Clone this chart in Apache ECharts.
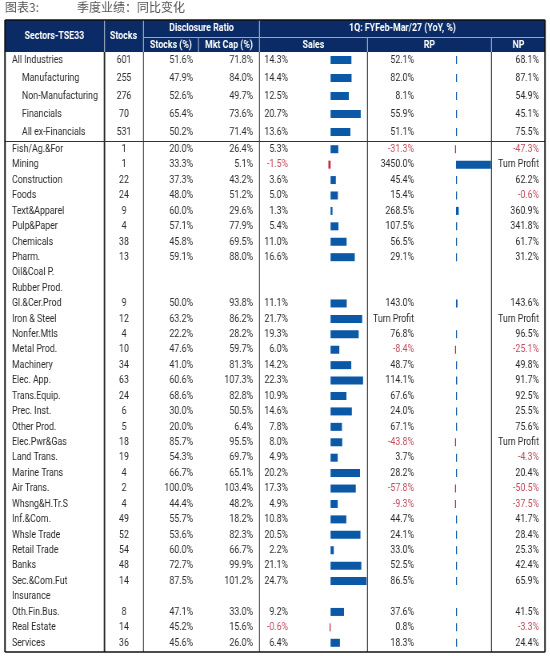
<!DOCTYPE html>
<html><head><meta charset="utf-8">
<script src="https://cdn.jsdelivr.net/npm/echarts@6/dist/echarts.min.js"></script>
<style>
html,body{margin:0;padding:0;background:#fff;overflow:hidden}
#wrap{width:550px;height:656px;overflow:hidden}
#c{width:687.5px;height:656px;transform:scaleX(0.8);transform-origin:0 0}
</style>
</head><body><div id="wrap"><div id="c"></div></div>
<script>
// ---------------- data ----------------
const sectors = ['All Industries','Manufacturing','Non-Manufacturing','Financials','All ex-Financials',
 'Fish/Ag.&For','Mining','Construction','Foods','Text&Apparel','Pulp&Paper','Chemicals','Pharm.','Oil&Coal P.','Rubber Prod.',
 'Gl.&Cer.Prod','Iron & Steel','Nonfer.Mtls','Metal Prod.','Machinery','Elec. App.','Trans.Equip.','Prec. Inst.','Other Prod.',
 'Elec.Pwr&Gas','Land Trans.','Marine Trans','Air Trans.','Whsng&H.Tr.S','Inf.&Com.','Whsle Trade','Retail Trade','Banks',
 'Sec.&Com.Fut','Insurance','Oth.Fin.Bus.','Real Estate','Services'];
const stocks = [601,255,276,70,531, 1,1,22,24,9,4,38,13,null,null, 9,12,4,10,34,63,24,6,5, 18,19,4,2,4,49,52,54,48, 14,null,8,14,36];
const stocksPct = [51.6,47.9,52.6,65.4,50.2, 20.0,33.3,37.3,48.0,60.0,57.1,45.8,59.1,null,null, 50.0,63.2,22.2,47.6,41.0,60.6,68.6,30.0,20.0,
 85.7,54.3,66.7,100.0,44.4,55.7,53.6,60.0,72.7, 87.5,null,47.1,45.2,45.6];
const mktCapPct = [71.8,84.0,49.7,73.6,71.4, 26.4,5.1,43.2,51.2,29.6,77.9,69.5,88.0,null,null, 93.8,86.2,28.2,59.7,81.3,107.3,82.8,50.5,6.4,
 95.5,69.7,65.1,103.4,48.2,18.2,82.3,66.7,99.9, 101.2,null,33.0,15.6,26.0];
const sales = [14.3,14.4,12.5,20.7,13.6, 5.3,-1.5,3.6,5.0,1.3,5.4,11.0,16.6,null,null, 11.1,21.7,19.3,6.0,14.2,22.3,10.9,14.6,7.8,
 8.0,4.9,20.2,17.3,4.9,10.8,20.5,2.2,21.1, 24.7,null,9.2,-0.6,6.4];
const rp = [52.1,82.0,8.1,55.9,51.1, -31.3,3450.0,45.4,15.4,268.5,107.5,56.5,29.1,null,null, 143.0,'Turn Profit',76.8,-8.4,48.7,114.1,67.6,24.0,67.1,
 -43.8,3.7,28.2,-57.8,-9.3,44.7,24.1,33.0,52.5, 86.5,null,37.6,0.8,18.3];
const np = [68.1,87.1,54.9,45.1,75.5, -47.3,'Turn Profit',62.2,-0.6,360.9,341.8,61.7,31.2,null,null, 143.6,'Turn Profit',96.5,-25.1,49.8,91.7,92.5,25.5,75.6,
 'Turn Profit',-4.3,20.4,-50.5,-37.5,41.7,28.4,25.3,42.4, 65.9,null,41.5,-3.3,24.4];
const groupSizes = [5, 33];
const headerGroups = ['Disclosure Ratio', '1Q: FYFeb-Mar/27 (YoY, %)'];
const headerCols = ['Sectors-TSE33','Stocks','Stocks (%)','Mkt Cap (%)','Sales','RP','NP'];
const titleLabel = '图表3:';
const titleText = '季度业绩：同比变化';

// ---------------- style ----------------
// the chart canvas is drawn 1/0.8 wider and squeezed back to give condensed text
const S = 0.8;
const X = v => v / S;
const FONT = "Roboto,'Liberation Sans',sans-serif";
const NAVY = '#0b2b66', BLUE = '#0b58a6', RED = '#c62a3e', TXT = '#2b2b2b', NEGTXT = '#c24b5c';
const pct = v => v == null ? '' : (typeof v === 'string' ? v : v.toFixed(1) + '%');

const chart = echarts.init(document.getElementById('c'), null, {renderer: 'canvas'});
const grids = [], xAxes = [], yAxes = [], series = [];

const sections = [];
const secTops = [51, 141.5];
const secHeights = [90, 509];
let startIdx = 0;
groupSizes.forEach((n, i) => { sections.push({from: startIdx, to: startIdx + n, top: secTops[i], height: secHeights[i]}); startIdx += n; });

const textCols = [
  {arr: sectors, left: 12, align: 'left', name: true},
  {arr: stocks, left: 124, align: 'center', fmt: v => v == null ? '' : String(v)},
  {arr: stocksPct, left: 193, align: 'right', fmt: pct},
  {arr: mktCapPct, left: 253, align: 'right', fmt: pct},
  {arr: sales, left: 288, align: 'right', fmt: pct},
  {arr: rp, left: 414, align: 'right', fmt: pct},
  {arr: np, left: 539, align: 'right', fmt: pct}
];
const barCols = [
  {arr: sales, left: 300, width: 67, min: -21, max: 25},
  {arr: rp, left: 420, width: 72, min: -3550, max: 3550}
];

sections.forEach((sec, si) => {
  const cats = sectors.slice(sec.from, sec.to);
  textCols.forEach(col => {
    const gi = grids.length;
    const vals = col.arr.slice(sec.from, sec.to);
    grids.push({left: X(col.left), top: sec.top, width: X(1), height: sec.height});
    xAxes.push({type: 'value', gridIndex: gi, show: false, min: 0, max: 1});
    yAxes.push({
      type: 'category', gridIndex: gi, data: cats, inverse: true,
      axisLine: {show: false}, axisTick: {show: false}, splitLine: {show: false},
      axisLabel: {
        show: true, interval: 0, margin: 0, align: col.align,
        fontFamily: FONT, fontSize: 11,
        color: (v, i) => (typeof vals[i] === 'number' && vals[i] < 0) ? NEGTXT : TXT,
        formatter: (v, i) => {
          if (col.name) return (si === 0 && i > 0) ? '{ind|' + v + '}' : v;
          return col.fmt(vals[i]);
        },
        rich: {ind: {padding: [0, 0, 0, X(10)], fontFamily: FONT, fontSize: 11, color: TXT}}
      }
    });
  });
  barCols.forEach(col => {
    const gi = grids.length;
    const vals = col.arr.slice(sec.from, sec.to);
    grids.push({left: X(col.left), top: sec.top, width: X(col.width), height: sec.height});
    xAxes.push({type: 'value', gridIndex: gi, show: false, min: col.min, max: col.max});
    yAxes.push({type: 'category', gridIndex: gi, data: cats, inverse: true, show: false});
    series.push({
      type: 'bar', xAxisIndex: gi, yAxisIndex: gi, barWidth: 8, barMinHeight: X(1), silent: true,
      data: vals.map(v => typeof v === 'number' ? {value: v, itemStyle: {color: v < 0 ? RED : BLUE}} : '-')
    });
  });
});

// ---------------- table frame (graphic) ----------------
const HL = '#9aa6c0';
const vln = (x, y1, y2, stroke, w) => ({type: 'line', silent: true, z: 10, shape: {x1: X(x), y1, x2: X(x), y2}, style: {stroke, lineWidth: X(w)}});
const hln = (x1, x2, y, stroke, w) => ({type: 'line', silent: true, z: 10, shape: {x1: X(x1), y1: y, x2: X(x2), y2: y}, style: {stroke, lineWidth: w}});
const txt = (text, x, y, opts) => Object.assign({type: 'text', silent: true, z: 12,
  style: Object.assign({text, x: X(x), y, fill: '#fff', font: 'bold 11px ' + FONT, textAlign: 'center', textVerticalAlign: 'middle'}, opts || {})});
const cjk = (text, x, y) => ({type: 'text', silent: true, z: 12, x: X(x), y, scaleX: 1 / S,
  style: {text, x: 0, y: 0, fill: '#555', font: '12px "Noto Sans CJK SC"', textAlign: 'left', textVerticalAlign: 'middle'}});
const graphic = [
  cjk(titleLabel, 5, 7),
  cjk(titleText, 77, 7),
  {type: 'rect', silent: true, z: 9, shape: {x: X(5), y: 20, width: X(540), height: 32}, style: {fill: NAVY}},
  vln(104.5, 52, 652, '#222', 1.5),
  vln(143.5, 52, 652, '#555', 1),
  vln(259.5, 52, 652, '#555', 1),
  vln(367.5, 52, 652, '#444', 1),
  vln(491.5, 52, 652, '#444', 1),
  hln(5, 545, 141.5, '#333', 1),
  vln(104.5, 20, 52, HL, 1),
  vln(143.5, 20, 52, HL, 1),
  vln(259.5, 20, 52, HL, 1),
  vln(198.5, 37, 52, HL, 1),
  vln(367.5, 37, 52, HL, 1),
  vln(491.5, 37, 52, HL, 1),
  hln(143.5, 545, 37.5, HL, 1),
  vln(5, 20, 652, '#111', 1.5),
  vln(545, 20, 652, '#111', 1.5),
  hln(5, 545, 20, '#111', 1.5),
  hln(5, 545, 652, '#111', 1.5),
  txt(headerCols[0], 54.5, 36),
  txt(headerCols[1], 123.5, 36),
  txt(headerGroups[0], 201.5, 28.5),
  txt(headerCols[2], 171, 45),
  txt(headerCols[3], 229, 45),
  txt(headerGroups[1], 402.5, 28.5),
  txt(headerCols[4], 313.5, 45),
  txt(headerCols[5], 429.5, 45),
  txt(headerCols[6], 518.5, 45)
];

chart.setOption({
  animation: false,
  backgroundColor: '#fff',
  grid: grids, xAxis: xAxes, yAxis: yAxes, series,
  graphic
});
</script></body></html>
